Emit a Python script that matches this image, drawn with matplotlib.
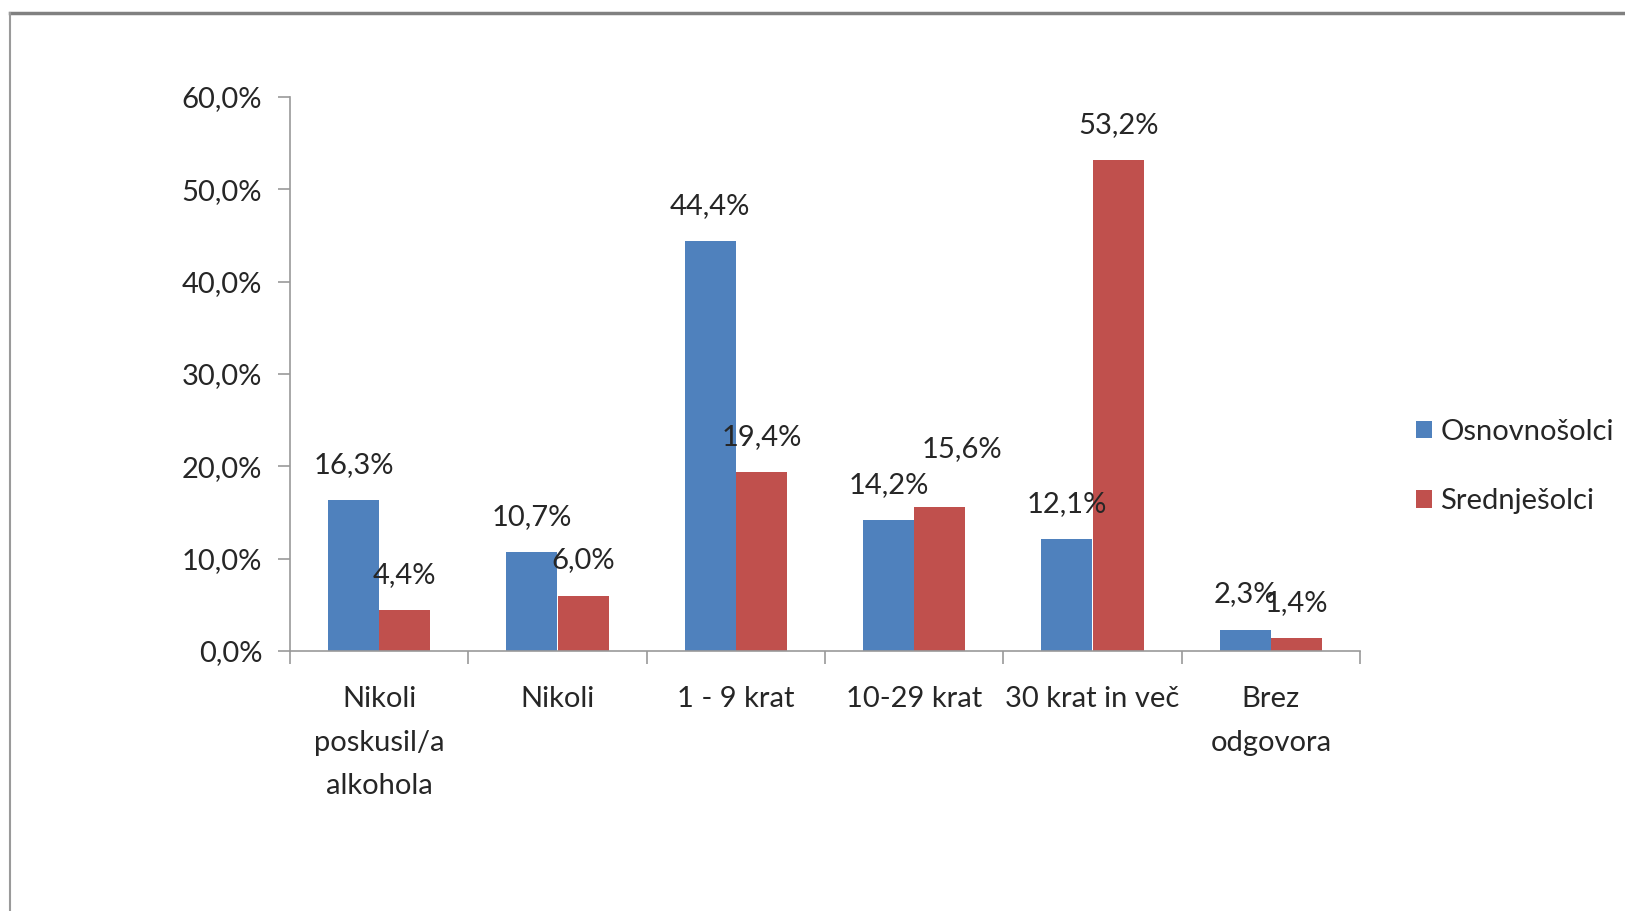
import numpy as np
import matplotlib
matplotlib.use("Agg")
from matplotlib import pyplot as plt
from matplotlib.lines import Line2D

categories = ["Nikoli\nposkusil/a\nalkohola", "Nikoli", "1 - 9 krat", "10-29 krat", "30 krat in več", "Brez\nodgovora"]
osnovnosolci = [16.3, 10.7, 44.4, 14.2, 12.1, 2.3]
srednjesolci = [4.4, 6.0, 19.4, 15.6, 53.2, 1.4]
series_names = ["Osnovnošolci", "Srednješolci"]
yticks = [0, 10, 20, 30, 40, 50, 60]


def pct(v):
    return f"{v:.1f}%".replace(".", ",")


plt.rcParams["font.family"] = ["Lato", "DejaVu Sans"]
fig = plt.figure(figsize=(16.25, 9.11), dpi=100)
ax = fig.add_axes([290 / 1625, 1 - 651 / 911, 1070 / 1625, 554 / 911])

x = np.arange(len(categories))
w = 0.287
blue = "#4F81BD"
red = "#C0504D"
txt = "#262626"
fs = 21
b1 = ax.bar(x - w / 2, osnovnosolci, w, color=blue, label=series_names[0])
b2 = ax.bar(x + w / 2, srednjesolci, w, color=red, label=series_names[1])

# excel pushed one label aside to avoid a collision
nudge = {(1, 3): (16, 32)}
for si, (bars, vals) in enumerate(((b1, osnovnosolci), (b2, srednjesolci))):
    for ci, (rect, v) in enumerate(zip(bars, vals)):
        ax.annotate(pct(v), (rect.get_x() + rect.get_width() / 2, v),
                    xytext=nudge.get((si, ci), (0, 16)), textcoords="offset points",
                    ha="center", va="bottom", fontsize=fs, color=txt)

ax.set_xlim(-0.5, len(categories) - 0.5)
ax.set_ylim(0, 60)
ax.set_yticks(yticks)
ax.set_yticklabels([pct(t) for t in yticks], fontsize=fs, color=txt)
ax.set_xticks(x)
ax.set_xticklabels(categories, fontsize=fs, color=txt, linespacing=1.85, va="top")
ax.set_xticks(np.arange(-0.5, len(categories)), minor=True)
ax.tick_params(axis="x", which="major", length=0, pad=25)
ax.tick_params(axis="x", which="minor", length=9, color="#999999", width=1.2, direction="out")
ax.tick_params(axis="y", length=9, color="#999999", width=1.2, pad=11)
for s in ("top", "right"):
    ax.spines[s].set_visible(False)
for s in ("left", "bottom"):
    ax.spines[s].set_color("#999999")
    ax.spines[s].set_linewidth(1.2)

leg = ax.legend(loc="center left", bbox_to_anchor=(1.052, 0.333), frameon=False,
                fontsize=fs, handlelength=0.55, handleheight=0.55, handletextpad=0.3,
                labelspacing=1.5, borderaxespad=0, borderpad=0)
for t in leg.get_texts():
    t.set_color(txt)

# frame of the original image (only top and left edges visible)
fig.add_artist(Line2D([10 / 1625, 1], [1 - 13 / 911, 1 - 13 / 911], transform=fig.transFigure,
                      color="#808080", lw=2.5))
fig.add_artist(Line2D([10 / 1625, 10 / 1625], [1 - 13 / 911, 0], transform=fig.transFigure,
                      color="#9a9a9a", lw=1.5))

fig.savefig("out.png", dpi=100)
